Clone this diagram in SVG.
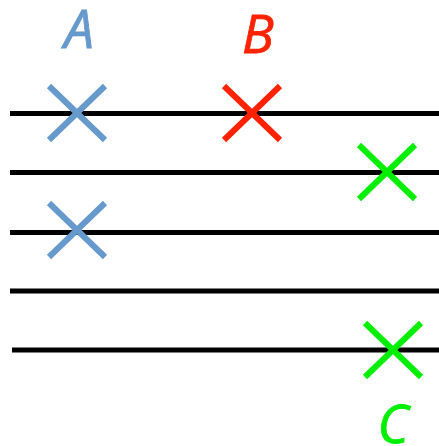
<svg xmlns="http://www.w3.org/2000/svg" width="439" height="446" viewBox="0 0 439 446">
<style>
.ln{stroke:#000;stroke-width:5;fill:none}
.x{stroke-width:6;fill:none}
.blue{stroke:#6699cc}
.red{stroke:#ff2200}
.green{stroke:#00ee00}
.lbl{font-family:"Open Sans","Liberation Sans",sans-serif;font-style:italic;font-size:53px;text-anchor:middle;stroke-width:0.8}
</style>
<defs>
<path id="cross" d="M-28,-27L28,27M28,-27L-28,27"/>
</defs>
<g id="connectors">
<line class="ln" x1="10" y1="113.5" x2="439" y2="113.5"/>
<line class="ln" x1="10" y1="172.5" x2="439" y2="172.5"/>
<line class="ln" x1="10" y1="232.5" x2="439" y2="232.5"/>
<line class="ln" x1="10" y1="291" x2="439" y2="291"/>
<line class="ln" x1="12" y1="350" x2="439" y2="350"/>
</g>
<g id="crossA1"><use href="#cross" class="x blue" x="77" y="113"/></g>
<g id="crossA2"><use href="#cross" class="x blue" x="77" y="230"/></g>
<g id="crossB"><use href="#cross" class="x red" x="252" y="113"/></g>
<g id="crossC1"><use href="#cross" class="x green" x="387" y="172"/></g>
<g id="crossC2"><use href="#cross" class="x green" x="393" y="350"/></g>
<g id="labelA"><text class="lbl" x="79" y="48" fill="#6699cc" stroke="#6699cc">A</text></g>
<g id="labelB"><text class="lbl" x="258" y="53" fill="#ff2200" stroke="#ff2200">B</text></g>
<g id="labelC"><text class="lbl" x="393" y="443" fill="#00ee00" stroke="#00ee00">C</text></g>
</svg>
